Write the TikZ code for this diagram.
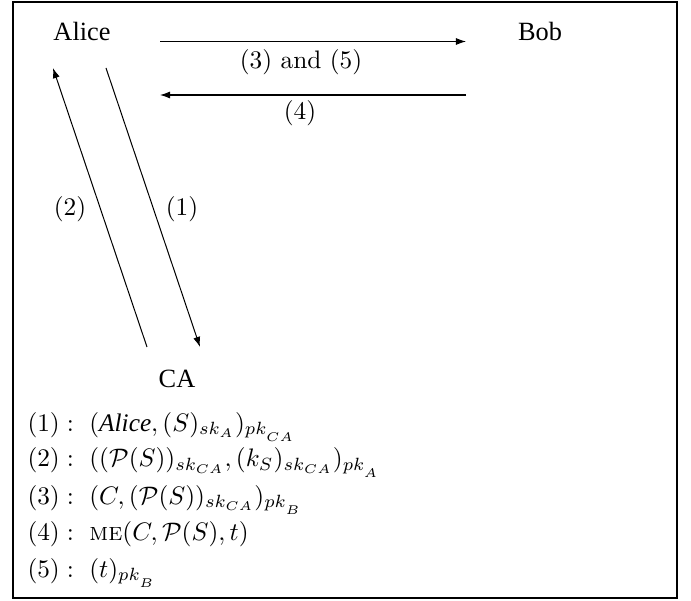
\documentclass[tikz,border=0pt]{standalone}
\usepackage{fontspec}
\newfontfamily\tms{Liberation Serif}
\usetikzlibrary{arrows.meta}
\tikzset{
  party/.style={font=\tms\fontsize{10.4}{12}\selectfont, inner sep=0pt, anchor=base},
  lbl/.style={font=\fontsize{10}{12}\selectfont, inner sep=0pt},
  msgline/.style={font=\fontsize{10}{12}\selectfont, inner sep=0pt, anchor=base west},
  conn/.style={line width=0.4pt, -{Latex[length=4pt,width=2.8pt]}},
}
\begin{document}
\begin{tikzpicture}[x=0.395pt,y=-0.395pt]
\useasboundingbox (0,0) rectangle (691,601);
\draw[line width=0.45pt] (13,2) rectangle (677,598);
\node[party] (alice) at (82,41) {Alice};
\node[party] (bob) at (540,41) {Bob};
\node[party] (ca) at (177,387) {CA};
\coordinate (t35s) at (160,41.5);
\coordinate (t35e) at (466,41.5);
\coordinate (t4s) at (466,95);
\coordinate (t4e) at (160,95);
\coordinate (t2s) at (147,347);
\coordinate (t2e) at (53,68);
\coordinate (t1s) at (106,68);
\coordinate (t1e) at (200,347);
\draw[conn] (t35s) -- (t35e);
\draw[conn] (t4s) -- (t4e);
\draw[conn] (t2s) -- (t2e);
\draw[conn] (t1s) -- (t1e);
\node[lbl] (l35) at (301,62) {$(3)$ and $(5)$};
\node[lbl] (l4) at (300,113) {$(4)$};
\node[lbl] (l2) at (70,209) {$(2)$};
\node[lbl] (l1) at (182,209) {$(1)$};
\node[msgline] (m1) at (27,431) {$(1):\ (\mbox{\tms\itshape Alice},(S)_{sk_A})_{pk_{_{CA}}}$};
\node[msgline] (m2) at (27,467) {$(2):\ ((\mathcal{P}(S))_{sk_{CA}},(k_S)_{sk_{CA}})_{pk_{_A}}$};
\node[msgline] (m3) at (27,504) {$(3):\ (C,(\mathcal{P}(S))_{sk_{CA}})_{pk_{_B}}$};
\node[msgline] (m4) at (27,540) {$(4):\ \textsc{me}(C,\mathcal{P}(S),t)$};
\node[msgline] (m5) at (27,577) {$(5):\ (t)_{pk_{_B}}$};
\end{tikzpicture}
\end{document}
